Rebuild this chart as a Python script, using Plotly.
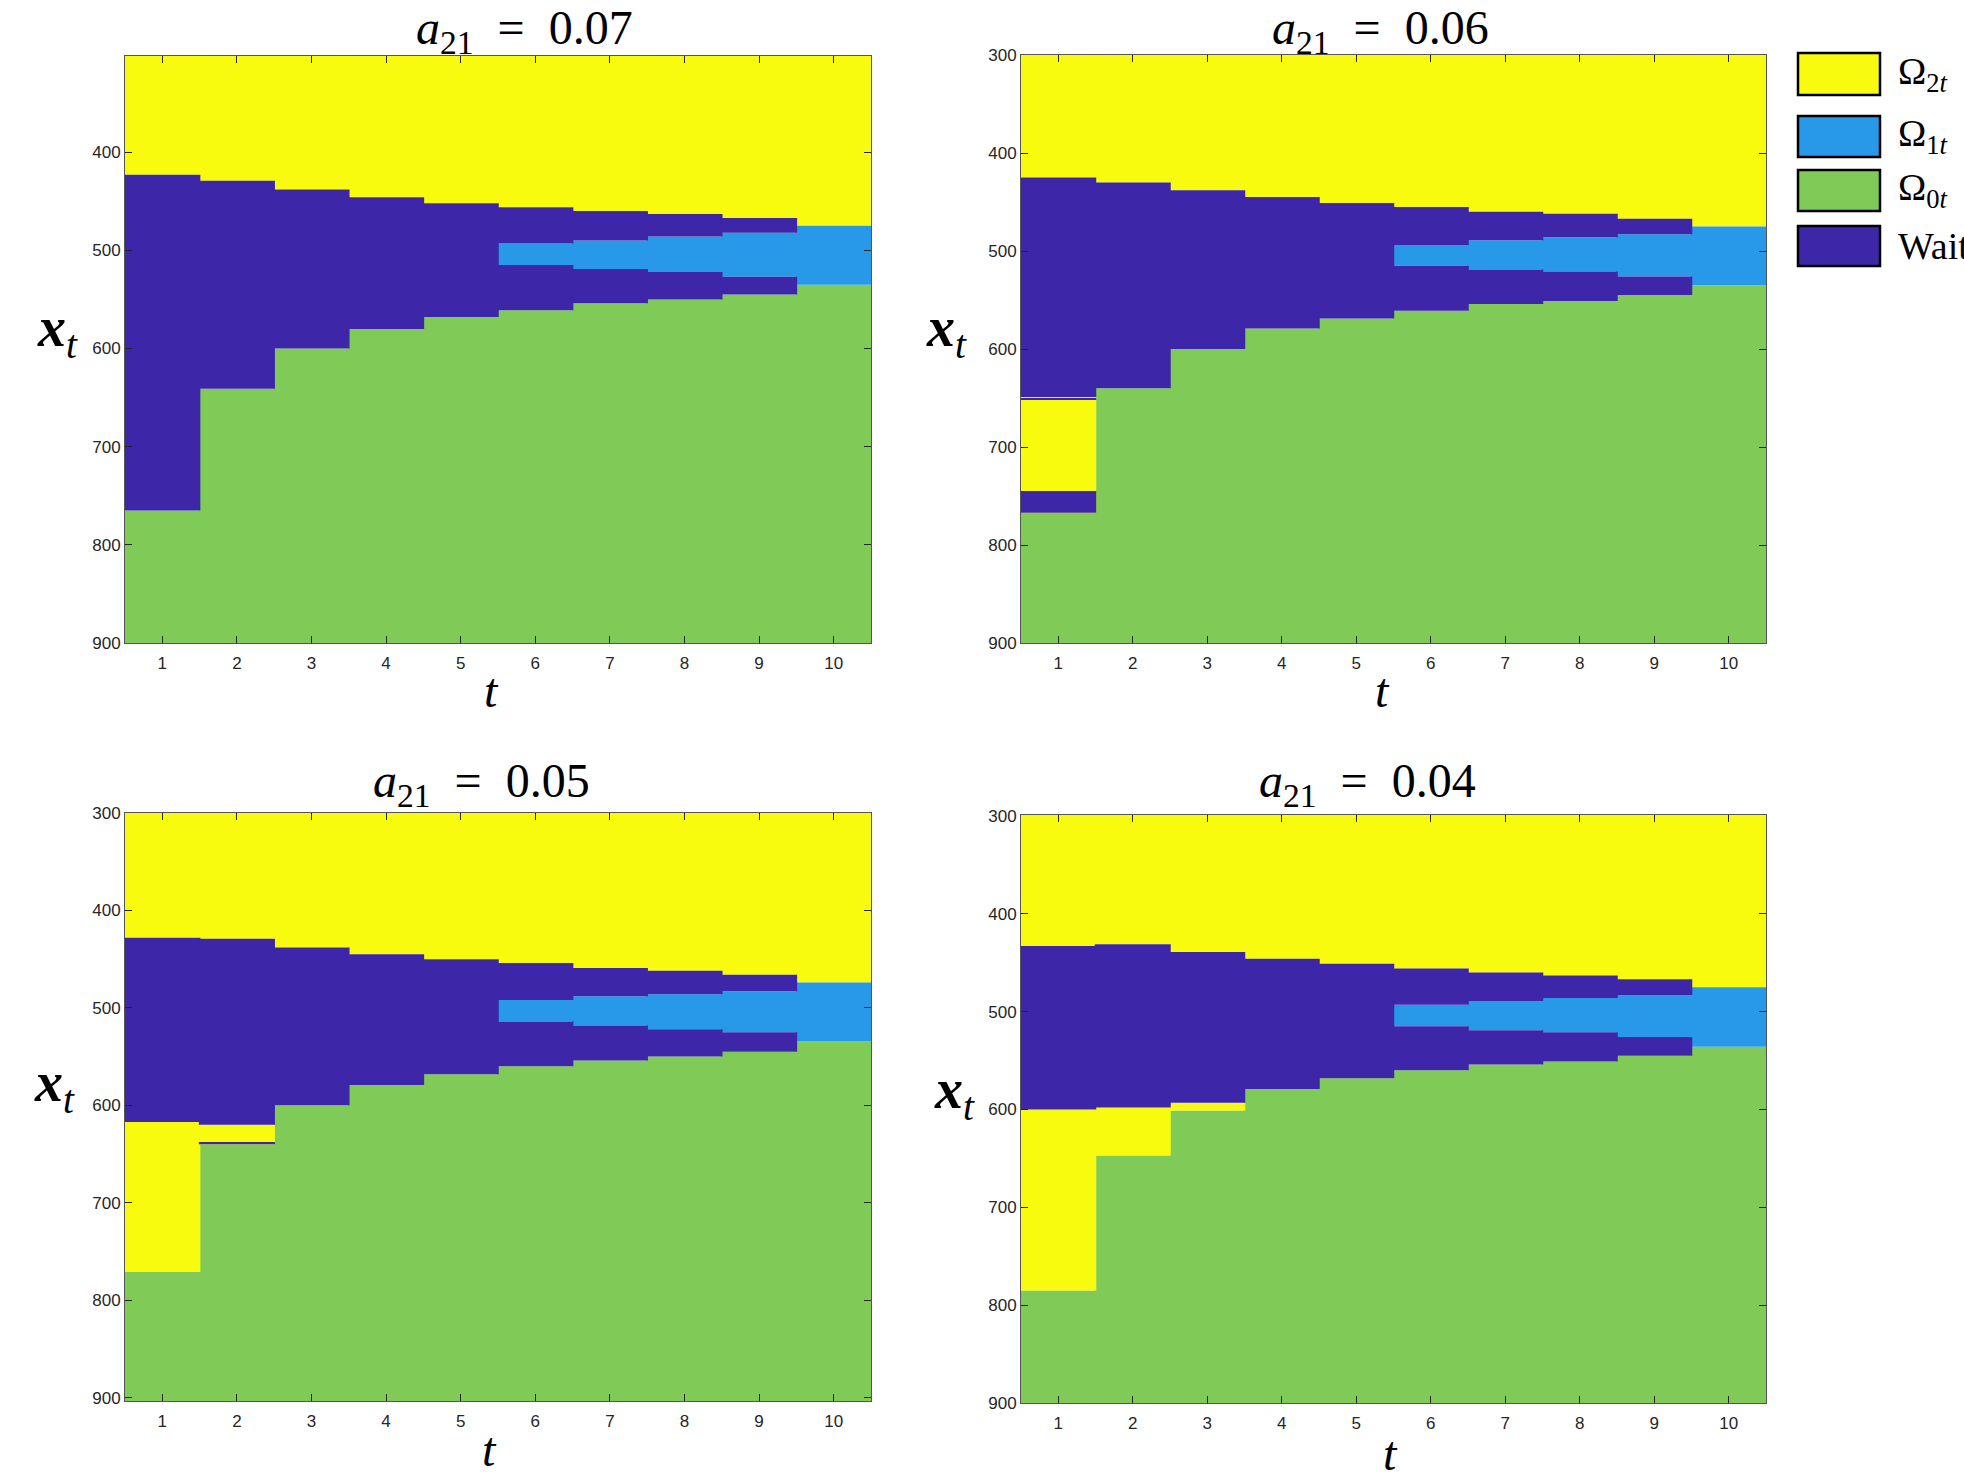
import plotly.graph_objects as go

W, H = 1964, 1482

# ---------------- data ----------------
T = list(range(1, 11))
X_TICKS = T
Y_TICKS = [300, 400, 500, 600, 700, 800, 900]
TITLES = ["0.07", "0.06", "0.05", "0.04"]

# a21 = 0.07
ylo_07 = [423, 429, 438, 446, 452, 456, 460, 463, 467, 475]
b1_07 = [None, None, None, None, None, 493, 490, 486, 482, 475]
b2_07 = [None, None, None, None, None, 515, 519, 522, 527, 535]
wend_07 = [765, 641, 600, 580, 568, 561, 554, 550, 545, 535]
g_07 = [765, 641, 600, 580, 568, 561, 554, 550, 545, 535]
extra_07 = []

# a21 = 0.06
ylo_06 = [425, 430, 438, 445, 451, 455, 460, 462, 467, 475]
b1_06 = [None, None, None, None, None, 494, 489, 486, 483, 475]
b2_06 = [None, None, None, None, None, 515, 519, 521, 526, 535]
wend_06 = [649, 640, 600, 579, 569, 561, 554, 551, 545, 535]
g_06 = [767, 640, 600, 579, 569, 561, 554, 551, 545, 535]
extra_06 = [(1, "W", 650, 651.5), (1, "W", 745, 767)]

# a21 = 0.05
ylo_05 = [428, 429, 438, 445, 450, 454, 459, 462, 466, 474]
b1_05 = [None, None, None, None, None, 492, 488, 486, 483, 474]
b2_05 = [None, None, None, None, None, 514, 518, 522, 525, 534]
wend_05 = [617, 620, 600, 579, 568, 560, 554, 550, 545, 534]
g_05 = [771, 640, 600, 579, 568, 560, 554, 550, 545, 534]
extra_05 = [(2, "W", 638, 640)]

# a21 = 0.04
ylo_04 = [433, 431, 439, 446, 451, 456, 460, 463, 467, 475]
b1_04 = [None, None, None, None, None, 493, 489, 486, 483, 475]
b2_04 = [None, None, None, None, None, 515, 519, 521, 526, 536]
wend_04 = [600, 598, 593, 579, 568, 560, 554, 551, 545, 536]
g_04 = [785, 647, 601, 579, 568, 560, 554, 551, 545, 536]
extra_04 = []

STATES = ["O0", "O2", "O1", "W"]
COLORS = {"O2": "#F9FB0E", "O1": "#2898E8", "O0": "#80CB58", "W": "#3E26A8"}
LEGEND_ORDER = ["O2", "O1", "O0", "W"]
LEGEND_TEXT = {
    "O2": "Ω<sub>2<i>t</i></sub>",
    "O1": "Ω<sub>1<i>t</i></sub>",
    "O0": "Ω<sub>0<i>t</i></sub>",
    "W": "Wait",
}

PANELS = [
    dict(ylo=ylo_07, b1=b1_07, b2=b2_07, wend=wend_07, g=g_07, extra=extra_07,
         yr=(302, 900), ticks=[400, 500, 600, 700, 800, 900]),
    dict(ylo=ylo_06, b1=b1_06, b2=b2_06, wend=wend_06, g=g_06, extra=extra_06,
         yr=(300, 900), ticks=Y_TICKS),
    dict(ylo=ylo_05, b1=b1_05, b2=b2_05, wend=wend_05, g=g_05, extra=extra_05,
         yr=(300, 903.4), ticks=Y_TICKS),
    dict(ylo=ylo_04, b1=b1_04, b2=b2_04, wend=wend_04, g=g_04, extra=extra_04,
         yr=(299, 900), ticks=Y_TICKS),
]

# ---------------- layout geometry (pixels) ----------------
BOXES = [  # left, right, top, bottom
    (125, 871, 56, 643),
    (1021, 1766, 55, 643),
    (125, 871, 813, 1401),
    (1021, 1766, 815, 1403),
]
TITLE_POS = [(524, 31), (1380, 31), (481, 784), (1367, 784)]
XT_POS = [(57, 331), (946, 331), (54, 1086), (954, 1093)]
TLAB_POS = [(492, 690), (1382, 690), (489, 1449), (1390, 1453)]


def px(x):
    return x / W


def py(y):
    return 1 - y / H


def build_segments(p):
    top, bottom = p["yr"]
    segs = {s: [] for s in STATES}
    for i, t in enumerate(T):
        segs["O2"].append((t, top, p["ylo"][i]))
        if p["b1"][i] is None:
            segs["W"].append((t, p["ylo"][i], p["wend"][i]))
        else:
            segs["W"].append((t, p["ylo"][i], p["b1"][i]))
            segs["O1"].append((t, p["b1"][i], p["b2"][i]))
            segs["W"].append((t, p["b2"][i], p["wend"][i]))
        segs["O2"].append((t, p["wend"][i], p["g"][i]))
        segs["O0"].append((t, p["g"][i], bottom))
    for (t, s, a, b) in p["extra"]:
        segs[s].append((t, a, b))
    for s in segs:
        segs[s] = [seg for seg in segs[s] if seg[2] > seg[1]]
    return segs


fig = go.Figure()
layout = dict(
    width=W, height=H, autosize=False,
    margin=dict(l=0, r=0, t=0, b=0, pad=0),
    paper_bgcolor="white", plot_bgcolor="white",
    barmode="overlay", showlegend=False,
    font=dict(family="Liberation Sans, Arial", size=17, color="#262626"),
)
annotations = []
shapes = []

for k, p in enumerate(PANELS):
    n = "" if k == 0 else str(k + 1)
    xa, ya = "x" + n, "y" + n
    segs = build_segments(p)
    for s in STATES:
        if not segs[s]:
            continue
        fig.add_trace(go.Bar(
            x=[seg[0] for seg in segs[s]],
            base=[seg[1] for seg in segs[s]],
            y=[seg[2] - seg[1] for seg in segs[s]],
            width=1.02,
            marker=dict(color=COLORS[s], line=dict(width=0), opacity=1),
            xaxis=xa, yaxis=ya, hoverinfo="skip",
        ))
    l, r, t, b = BOXES[k]
    axis_common = dict(
        showline=True, linecolor="#555555", linewidth=1, mirror="allticks",
        ticks="inside", ticklen=7, tickwidth=1, tickcolor="#262626",
        showgrid=False, zeroline=False, automargin=False,
        tickfont=dict(family="Liberation Sans, Arial", size=17, color="#262626"),
    )
    layout["xaxis" + n] = dict(
        domain=[px(l), px(r)], anchor=ya, range=[0.5, 10.5],
        tickmode="array", tickvals=X_TICKS, ticklabelstandoff=5, **axis_common,
    )
    top, bottom = p["yr"]
    layout["yaxis" + n] = dict(
        domain=[py(b), py(t)], anchor=xa, range=[bottom, top],
        tickmode="array", tickvals=p["ticks"], **axis_common,
    )
    tx, ty = TITLE_POS[k]
    annotations.append(dict(
        x=px(tx), y=py(ty), xref="paper", yref="paper", showarrow=False,
        xanchor="center", yanchor="middle",
        text="<i>a</i><sub>21</sub>&nbsp; = &nbsp;" + TITLES[k],
        font=dict(family="Liberation Serif, DejaVu Serif", size=48, color="black"),
    ))
    xx, xy = XT_POS[k]
    annotations.append(dict(
        x=px(xx), y=py(xy), xref="paper", yref="paper", showarrow=False,
        xanchor="center", yanchor="middle",
        text="<b><i>x</i></b><sub><i>t</i></sub>",
        font=dict(family="Liberation Serif, DejaVu Serif", size=56, color="black"),
    ))
    lx, ly = TLAB_POS[k]
    annotations.append(dict(
        x=px(lx), y=py(ly), xref="paper", yref="paper", showarrow=False,
        xanchor="center", yanchor="middle",
        text="<i>t</i>",
        font=dict(family="Liberation Serif, DejaVu Serif", size=48, color="black"),
    ))

# legend (drawn manually to match the large swatches)
LEG_BOXES = [(53, 95), (116, 157), (170, 211), (226, 266)]
for (y0, y1), s in zip(LEG_BOXES, LEGEND_ORDER):
    shapes.append(dict(
        type="rect", xref="paper", yref="paper",
        x0=px(1798), x1=px(1880), y0=py(y1), y1=py(y0),
        fillcolor=COLORS[s], line=dict(color="black", width=2.5),
    ))
    annotations.append(dict(
        x=px(1896), y=py((y0 + y1) / 2), xref="paper", yref="paper",
        showarrow=False, xanchor="left", yanchor="middle",
        text=LEGEND_TEXT[s],
        font=dict(family="Liberation Serif, DejaVu Serif", size=38, color="black"),
    ))

layout["annotations"] = annotations
layout["shapes"] = shapes
fig.update_layout(**layout)

fig.write_html("out.html", config={"displayModeBar": False, "responsive": False},
               post_script="document.body.style.margin='0';")
